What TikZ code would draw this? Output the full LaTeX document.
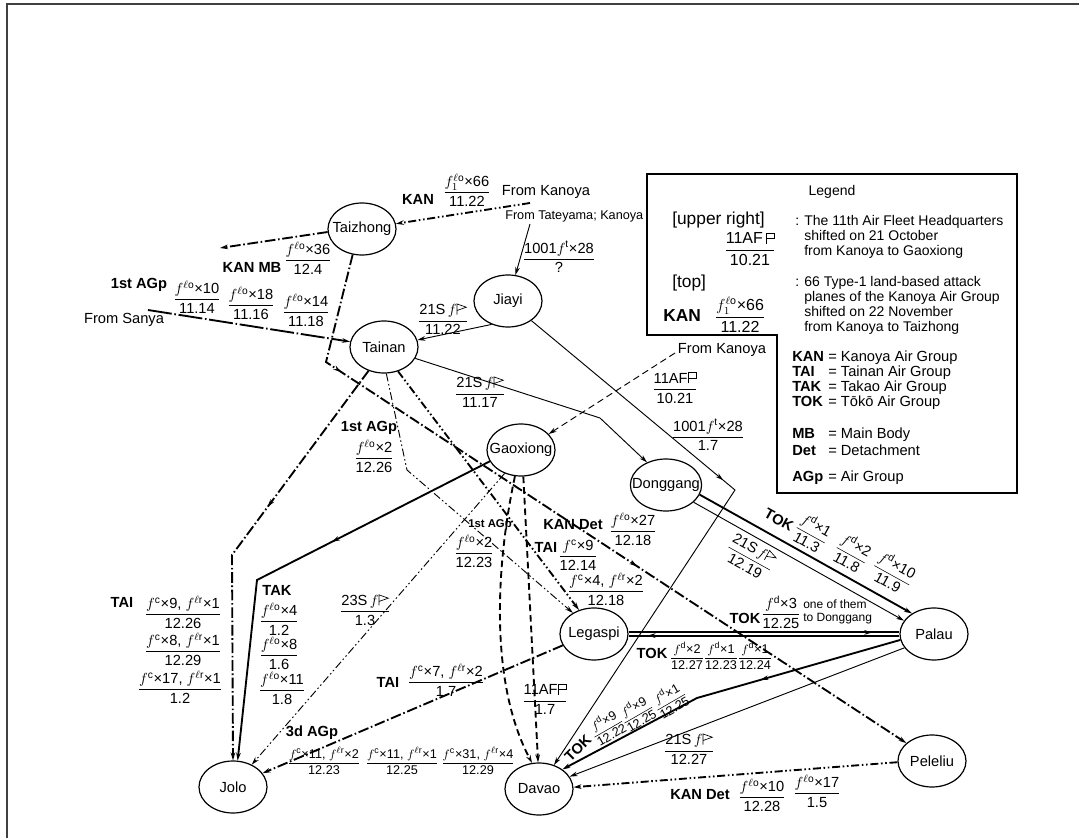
\documentclass[tikz,border=0pt]{standalone}
\usepackage{fontspec}
\setmainfont{Liberation Sans}
\usetikzlibrary{shapes.geometric,arrows.meta,decorations.markings}

\newcommand{\fLO}{$f^{\ell\mathrm{o}}$}
\newcommand{\fLOi}{$f^{\ell\mathrm{o}}_{1}$}
\newcommand{\fC}{$f^{\mathrm{c}}$}
\newcommand{\fLR}{$f^{\ell\mathrm{r}}$}
\newcommand{\fD}{$f^{\mathrm{d}}$}
\newcommand{\fT}{$f^{\mathrm{t}}$}
\newcommand{\frc}[2]{$\displaystyle\frac{\mbox{#1}}{\mbox{#2}}$}
\newcommand{\flagsq}{\tikz[baseline=0pt,x=1pt,y=1pt]\draw[line width=0.5pt,solid] (0,0)--(0,8)--(6,8)--(6,4)--(0,4);}
\newcommand{\flagtri}{\tikz[baseline=0pt,x=1pt,y=1pt]\draw[line width=0.5pt,solid] (0,0)--(0,8)--(7,5.5)--(0,3);}
\newcommand{\lgditem}[2]{\makebox[27pt][l]{\bfseries #1}= #2}

\begin{document}
\begin{tikzpicture}[x=0.75pt,y=-0.75pt,
  place/.style={ellipse,draw,line width=0.9pt,minimum width=51pt,minimum height=39pt,inner xsep=-6.5pt,inner ysep=0pt,font=\fontsize{11}{13}\selectfont},
  fracnode/.style={inner sep=0pt,font=\fontsize{11}{13}\selectfont},
  smallfr/.style={font=\fontsize{9.5}{11}\selectfont},
  grp/.style={inner sep=0pt,font=\fontsize{11}{13}\selectfont\bfseries},
  txt/.style={inner sep=0pt,font=\fontsize{11}{13}\selectfont},
  route/.style={line width=0.7pt,-{Stealth[length=6pt,width=3.5pt]}},
  heavy/.style={line width=1.4pt},
  dashdot/.style={dash pattern=on 8pt off 2pt on 1.2pt off 2pt},
  dashdotdot/.style={dash pattern=on 6pt off 2pt on 1.2pt off 2pt on 1.2pt off 2pt},
  longdashdot/.style={dash pattern=on 18pt off 2pt on 1.2pt off 2pt},
  dashlong/.style={dash pattern=on 5pt off 3pt},
  midarr/.style={postaction={decorate,decoration={markings,mark=at position #1 with {\arrow{Stealth[length=6pt,width=3.5pt]}}}}}]
\useasboundingbox (0,0) rectangle (1079,838);
% page frame
\draw[line width=1.3pt,black!75] (7,838) -- (7,4) -- (1079,4);

% places
\node[place] (tz) at (362,229) {Taizhong};
\node[place] (jy) at (508,301) {Jiayi};
\node[place] (tn) at (384,347) {Tainan};
\node[place] (gx) at (521,450) {Gaoxiong};
\node[place] (dg) at (666,485) {Donggang};
\node[place] (lg) at (594,634) {Legaspi};
\node[place] (pl) at (934,634) {Palau};
\node[place] (pe) at (932,761) {Peleliu};
\node[place] (dv) at (539,789) {Davao};
\node[place] (jl) at (233,787) {Jolo};

% free ends
\coordinate (kanA) at (530,203);
\coordinate (tate) at (530,224);
\coordinate (sanya) at (148,310);
\coordinate (mbend) at (220,248);
\coordinate (kanB) at (675,353);

% moves
\draw[route,heavy,dashdotdot] (kanA) -- (tz);
\draw[route] (tate) -- (jy);
\draw[route,heavy,dashdot] (tz.185) -- (mbend);
\draw[route,heavy,longdashdot] (sanya) -- (tn);
\draw[route] (jy.235) -- (tn);
\draw[route] (tn.-20) -- (600,418) -- (dg.130);
\draw[route,midarr=0.42] (jy.-40) -- (735,490) -- (dv.58);
\draw[route,dashlong] (kanB) -- (gx.30);
\draw[route,heavy,dashdot,midarr=0.16,midarr=0.6] (tz.250) -- (326,362) -- (pe.145);
\draw[route,heavy,dashdot,midarr=0.39] (tn.237) -- (232,555) -- (jl.90);
\draw[route,heavy,midarr=0.4] (gx.200) -- (257,580) -- (jl.80);
\draw[route,dashdotdot] (gx.235) -- (jl.50);
\draw[route,heavy,dashdotdot] (tn.300) -- (lg.122);
\draw[route,dashdotdot] (tn.275) -- (407,470) -- (lg.135);
\draw[route,heavy,dashlong] (gx.257) .. controls (497,560) and (488,680) .. (dv.105);
\draw[route,heavy,dashlong] (gx.275) -- (dv.92);
\draw[route,heavy,dashdot] (lg.200) -- (jl.25);
\draw[route,heavy] (dg.-16) -- (pl.137);
\draw[route] (dg.-32) -- (pl.156);
\draw[heavy,midarr=0.9] ([yshift=1.2pt]lg.east) -- ([yshift=1.2pt]pl.west);
\draw[heavy,midarr=0.93] ([yshift=-1.2pt]pl.west) -- ([yshift=-1.2pt]lg.east);
\draw[route,heavy,midarr=0.4] (pl.190) -- (697,698) -- (dv.40);
\draw[route] (pl.205) -- (dv.22);
\draw[route,heavy,dashdotdot] (pe.182) -- (dv.3);

% labels, north
\node[grp] (kanlbl) at (418,199) {KAN};
\node[fracnode] (kanfr) at (467,190) {\frc{\fLOi×66}{11.22}};
\node[txt] (kanAtxt) at (546,192) {From Kanoya};
\node[txt,anchor=west,font=\fontsize{9.5}{11}\selectfont] (tatetxt) at (505,216) {From Tateyama; Kanoya};
\node[fracnode] (tatefr) at (559,257) {\frc{1001\fT×28}{?}};
\node[grp] (mblbl) at (252,267) {KAN MB};
\node[fracnode] (mbfr) at (308,258) {\frc{\fLO×36}{12.4}};
\node[grp] (agplblA) at (139,285) {1st AGp};
\node[fracnode] (sanfrA) at (197,297) {\frc{\fLO×10}{11.14}};
\node[fracnode] (sanfrB) at (251,303) {\frc{\fLO×18}{11.16}};
\node[fracnode] (sanfrC) at (306,310) {\frc{\fLO×14}{11.18}};
\node[txt] (sanyatxt) at (124,320) {From Sanya};
\node[fracnode] (jtfr) at (443,319) {\frc{21S\,$f$\flagtri}{11.22}};
\node[fracnode] (tdfr) at (480,392) {\frc{21S\,$f$\flagtri}{11.17}};
\node[txt] (kanBtxt) at (722,350) {From Kanoya};
\node[fracnode] (kgfr) at (675,388) {\frc{11AF\flagsq}{10.21}};
\node[fracnode] (jdfr) at (708,435) {\frc{1001\fT×28}{1.7}};

% labels, centre
\node[grp] (agplblB) at (369,428) {1st AGp};
\node[fracnode] (tjfr) at (374,456) {\frc{\fLO×2}{12.26}};
\node[grp,font=\fontsize{8.5}{10}\selectfont\bfseries] (agplblC) at (490,525) {1st AGp};
\node[fracnode] (tlfrA) at (474,551) {\frc{\fLO×2}{12.23}};
\node[grp] (kandetA) at (573,525) {KAN Det};
\node[fracnode] (kdfr) at (633,529) {\frc{\fLO×27}{12.18}};
\node[grp] (tailblA) at (546,547) {TAI};
\node[fracnode] (tlfrB) at (578,555) {\frc{\fC×9}{12.14}};
\node[fracnode] (tlfrC) at (606,589) {\frc{\fC×4, \fLR×2}{12.18}};

% labels, Jolo
\node[grp] (tailblB) at (122,602) {TAI};
\node[fracnode] (tjfrA) at (183,612) {\frc{\fC×9, \fLR×1}{12.26}};
\node[fracnode] (tjfrB) at (183,649) {\frc{\fC×8, \fLR×1}{12.29}};
\node[fracnode] (tjfrC) at (180,687) {\frc{\fC×17, \fLR×1}{1.2}};
\node[grp] (taklbl) at (277,590) {TAK};
\node[fracnode] (gjfrA) at (279,619) {\frc{\fLO×4}{1.2}};
\node[fracnode] (gjfrB) at (279,653) {\frc{\fLO×8}{1.6}};
\node[fracnode] (gjfrC) at (282,688) {\frc{\fLO×11}{1.8}};
\node[fracnode] (sjfr) at (365,610) {\frc{23S\,$f$\flagtri}{1.3}};
\node[grp] (tailblC) at (388,682) {TAI};
\node[fracnode] (ljfr) at (446,680) {\frc{\fC×7, \fLR×2}{1.7}};
\node[grp] (agplblD) at (312,733) {3d AGp};
\node[fracnode,smallfr] (agpfrA) at (324,761) {\frc{\fC×11, \fLR×2}{12.23}};
\node[fracnode,smallfr] (agpfrB) at (402,761) {\frc{\fC×11, \fLR×1}{12.25}};
\node[fracnode,smallfr] (agpfrC) at (478,761) {\frc{\fC×31, \fLR×4}{12.29}};
\node[fracnode] (gdfr) at (545,699) {\frc{11AF\flagsq}{1.7}};

% labels, Palau
\node[grp] (toklblA) at (745,618) {TOK};
\node[fracnode] (lpfr) at (781,612) {\frc{\fD×3}{12.25}};
\node[txt,anchor=west,font=\fontsize{9}{10}\selectfont] (onetxt) at (803,604) {one of them};
\node[txt,anchor=west,font=\fontsize{9}{10}\selectfont] (totxt) at (803,619) {to Donggang};
\node[grp] (toklblB) at (652,653) {TOK};
\node[fracnode,smallfr] (plfrA) at (687,656) {\frc{\fD×2}{12.27}};
\node[fracnode,smallfr] (plfrB) at (721,656) {\frc{\fD×1}{12.23}};
\node[fracnode,smallfr] (plfrC) at (755,656) {\frc{\fD×1}{12.24}};
\node[grp,rotate=-29] (toklblC) at (779,520) {TOK};
\node[fracnode,rotate=-29] (dpfrA) at (812,533) {\frc{\fD×1}{11.3}};
\node[fracnode,rotate=-29] (dpfrB) at (852,553) {\frc{\fD×2}{11.8}};
\node[fracnode,rotate=-29] (dpfrC) at (893,573) {\frc{\fD×10}{11.9}};
\node[fracnode,rotate=-29] (dpfrD) at (750,557) {\frc{21S\,$f$\flagtri}{12.19}};
\node[grp,rotate=45] (toklblD) at (578,748) {TOK};
\node[fracnode,smallfr,rotate=30] (pdfrA) at (607,727) {\frc{\fD×9}{12.22}};
\node[fracnode,smallfr,rotate=30] (pdfrB) at (637,713) {\frc{\fD×9}{12.25}};
\node[fracnode,smallfr,rotate=30] (pdfrC) at (670,700) {\frc{\fD×1}{12.25}};
\node[fracnode] (pdfrD) at (689,749) {\frc{21S\,$f$\flagtri}{12.27}};
\node[grp] (kandetB) at (700,795) {KAN Det};
\node[fracnode] (pdfrE) at (762,795) {\frc{\fLO×10}{12.28}};
\node[fracnode] (pdfrF) at (817,791) {\frc{\fLO×17}{1.5}};

% legend
\draw[line width=1pt] (647,174) -- (1017,174) -- (1017,493) -- (777,493) -- (777,335) -- (647,335) -- cycle;
\node[txt,font=\fontsize{10.5}{12}\selectfont] (lgdtitle) at (832,192) {Legend};
\node[txt,anchor=west,font=\fontsize{13}{15}\selectfont] (lgdur) at (672,220) {[upper right]};
\node[txt,anchor=north west,align=left,font=\fontsize{10.5}{11.3}\selectfont] (lgdurtxt) at (795,215) {: The 11th Air Fleet Headquarters\\\phantom{: }shifted on 21 October\\\phantom{: }from Kanoya to Gaoxiong};
\node[fracnode,font=\fontsize{12}{14}\selectfont] (lgdurfr) at (750,249) {\frc{11AF\,\flagsq}{10.21}};
\node[txt,anchor=west,font=\fontsize{13}{15}\selectfont] (lgdtop) at (672,283) {[top]};
\node[txt,anchor=north west,align=left,font=\fontsize{10.5}{11.3}\selectfont] (lgdtoptxt) at (795,276) {: 66 Type-1 land-based attack\\\phantom{: }planes of the Kanoya Air Group\\\phantom{: }shifted on 22 November\\\phantom{: }from Kanoya to Taizhong};
\node[grp,anchor=west,font=\fontsize{13}{15}\selectfont\bfseries] (lgdkan) at (663,316) {KAN};
\node[fracnode,font=\fontsize{12}{14}\selectfont] (lgdkanfr) at (740,315) {\frc{\fLOi×66}{11.22}};
\node[txt,anchor=west] (lgdA) at (792,358) {\lgditem{KAN}{Kanoya Air Group}};
\node[txt,anchor=west] (lgdB) at (792,373) {\lgditem{TAI}{Tainan Air Group}};
\node[txt,anchor=west] (lgdC) at (792,388) {\lgditem{TAK}{Takao Air Group}};
\node[txt,anchor=west] (lgdD) at (792,403) {\lgditem{TOK}{Tōkō Air Group}};
\node[txt,anchor=west] (lgdE) at (792,435) {\lgditem{MB}{Main Body}};
\node[txt,anchor=west] (lgdF) at (792,450) {\lgditem{Det}{Detachment}};
\node[txt,anchor=west] (lgdG) at (792,478) {\lgditem{AGp}{Air Group}};
\end{tikzpicture}
\end{document}
